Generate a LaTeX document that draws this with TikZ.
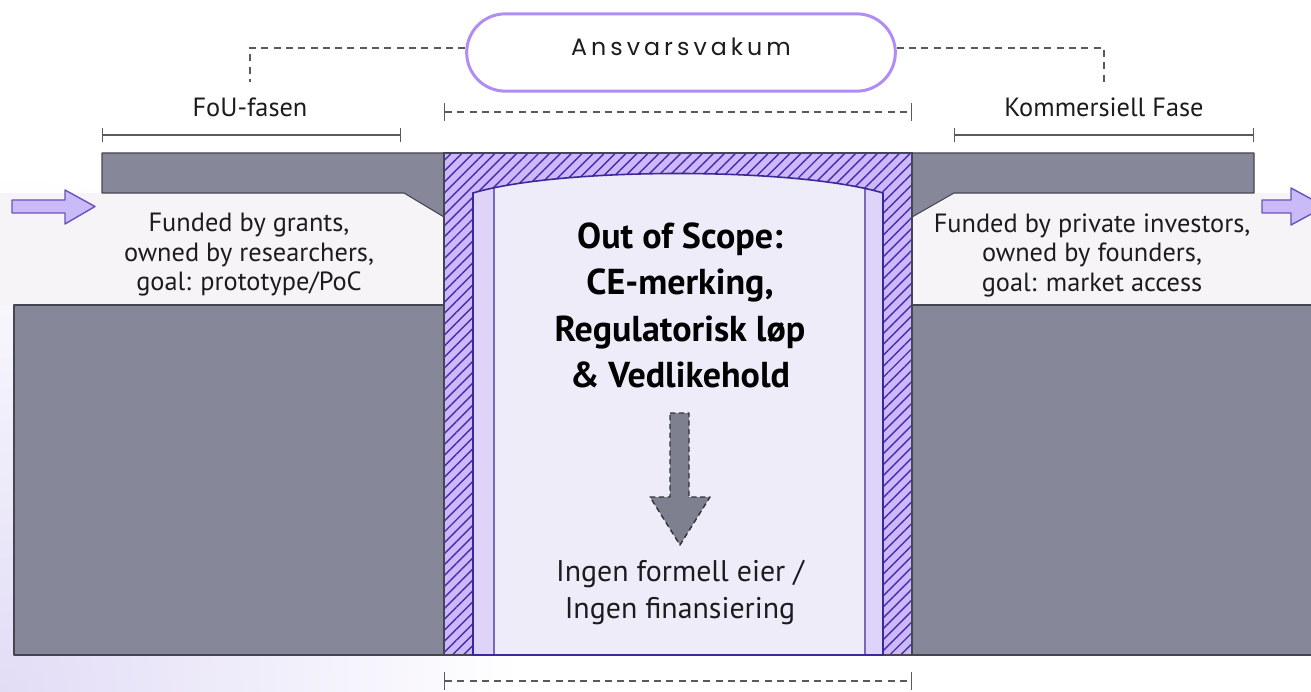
\documentclass[tikz,border=0pt]{standalone}
\usepackage{fontspec}
\setmainfont{PT Sans}
\newfontfamily\pillfont[LetterSpace=17]{Poppins}
\usetikzlibrary{patterns.meta,arrows.meta}
\definecolor{bargray}{RGB}{134,135,153}
\definecolor{edgegray}{RGB}{70,70,82}
\definecolor{hatchfill}{RGB}{204,184,250}
\definecolor{hatchline}{RGB}{68,44,170}
\definecolor{stripfill}{RGB}{222,212,250}
\definecolor{panelfill}{RGB}{239,236,249}
\definecolor{panelline}{RGB}{60,40,150}
\definecolor{pillline}{RGB}{178,140,245}
\definecolor{arrowfill}{RGB}{202,186,248}
\definecolor{arrowline}{RGB}{108,82,190}
\definecolor{bandfill}{RGB}{246,244,247}
\definecolor{lavbg}{RGB}{226,220,246}
\definecolor{txt}{RGB}{28,28,30}
\definecolor{dashgray}{RGB}{90,90,90}
\definecolor{downfill}{RGB}{126,128,143}
\begin{document}
\begin{tikzpicture}[x=0.02cm,y=-0.02cm,
  graybox/.style={fill=bargray,draw=edgegray,line width=0.6pt,line join=round},
  sidetext/.style={align=center,text=txt,font=\fontsize{15}{16.8}\selectfont,inner sep=0pt},
  phase/.style={text=txt,font=\fontsize{15}{17}\selectfont,inner sep=0pt},
  dimline/.style={draw=dashgray,line width=0.7pt,{Bar[width=8pt]}-{Bar[width=8pt]}},
  dimdash/.style={draw=dashgray,line width=0.7pt,dash pattern=on 4pt off 3pt,{Bar[width=10pt]}-{Bar[width=10pt]}},
  linkdash/.style={draw=dashgray,line width=0.7pt,dash pattern=on 4pt off 3pt},
  fatarrow/.style={fill=arrowfill,draw=arrowline,line width=0.8pt,line join=round}]
\useasboundingbox (0,0) rectangle (1311,692);
\clip (0,0) rectangle (1311,692);
% background
\fill[white] (0,0) rectangle (1311,692);
\shade[inner color=lavbg, outer color=white] (0,692) circle (520);
\fill[bandfill] (0,193) rectangle (444,305);
\fill[bandfill] (912,193) rectangle (1311,305);
% gray blocks
\draw[graybox] (102,153) -- (444,153) -- (444,217) -- (404,193) -- (102,193) -- cycle;
\draw[graybox] (912,153) -- (1254,153) -- (1254,193) -- (954,193) -- (912,217) -- cycle;
\draw[graybox] (14,305) rectangle (444,655);
\draw[graybox] (912,305) rectangle (1330,655);
% hatched column
\fill[hatchfill] (444,153) rectangle (912,655);
\fill[pattern={Lines[angle=45,distance=4.4pt,line width=0.8pt]},pattern color=hatchline] (444,153) rectangle (912,655);
\draw[edgegray,line width=0.8pt] (444,153) rectangle (912,655);
% inner panel
\def\panelpath{(473,655) -- (473,193) .. controls (560,167) and (796,167) .. (883,193) -- (883,655) -- cycle}
\fill[stripfill] \panelpath;
\begin{scope}
  \clip \panelpath;
  \fill[panelfill] (494,100) rectangle (865,660);
  \draw[panelline!70,line width=0.6pt] (494,100) -- (494,660) (865,100) -- (865,660);
\end{scope}
\draw[panelline,line width=0.9pt] \panelpath;
% side arrows
\draw[fatarrow] (12,200) -- (65,200) -- (65,190) -- (95,206.5) -- (65,224) -- (65,213) -- (12,213) -- cycle;
\draw[fatarrow] (1262,200) -- (1291,200) -- (1291,188) -- (1325,206.5) -- (1291,225) -- (1291,213) -- (1262,213) -- cycle;
% down arrow
\draw[fill=downfill,draw=black!80,line width=0.8pt,dash pattern=on 3pt off 2pt,line join=round]
  (670,413) -- (689,413) -- (689,497) -- (710,497) -- (680,545) -- (650,497) -- (670,497) -- cycle;
% pill
\node[draw=pillline,line width=1.7pt,fill=white,rounded corners=22pt,minimum width=244pt,minimum height=44pt,inner sep=0pt] (pill) at (681,52.5)
  {\raisebox{7pt}{\fontsize{13.5}{16}\pillfont\color{txt}Ansvarsvakum}};
\coordinate (foutop) at (250,82);
\coordinate (komtop) at (1104,82);
\draw[linkdash] ([yshift=2.5pt]pill.west) -| (foutop);
\draw[linkdash] ([yshift=2.5pt]pill.east) -| (komtop);
% phase labels
\node[phase,anchor=base] (fou) at (250,117) {FoU-fasen};
\node[phase,anchor=base] (kom) at (1104,117) {Kommersiell Fase};
\coordinate (foua) at (102,135);
\coordinate (foub) at (401,135);
\coordinate (koma) at (954,135);
\coordinate (komb) at (1254,135);
\draw[dimline] (foua) -- (foub);
\draw[dimline] (koma) -- (komb);
\coordinate (gapa) at (444,112);
\coordinate (gapb) at (912,112);
\coordinate (gapc) at (444,681);
\coordinate (gapd) at (912,681);
\draw[dimdash] (gapa) -- (gapb);
\draw[dimdash] (gapc) -- (gapd);
% texts
\node[sidetext,anchor=north] (lefttext) at (249,213) {Funded by grants,\\owned by researchers,\\goal: prototype/PoC};
\node[sidetext,anchor=north] (righttext) at (1092,213) {Funded by private investors,\\owned by founders,\\goal: market access};
\node[align=center,text=black,inner sep=0pt,anchor=north,font=\fontsize{20.5}{26.5}\selectfont\bfseries] (scope) at (680,222)
  {Out of Scope:\\CE-merking,\\Regulatorisk løp\\\& Vedlikehold};
\node[align=center,text=txt,inner sep=0pt,anchor=north,font=\fontsize{17}{20.8}\selectfont] (owner) at (680,560)
  {Ingen formell eier /\\Ingen finansiering};
\end{tikzpicture}
\end{document}
